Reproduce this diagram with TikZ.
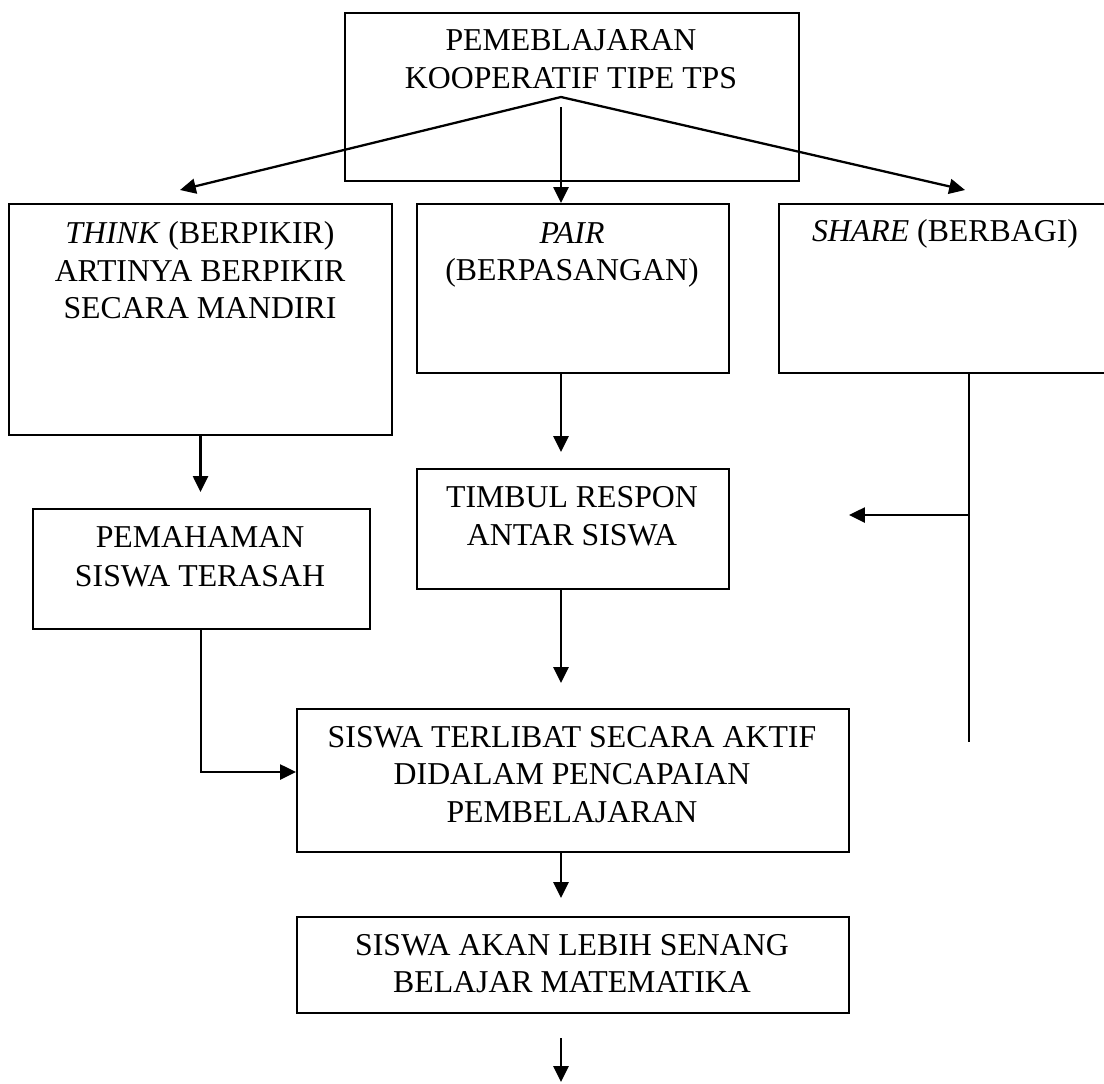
\documentclass[tikz,border=0pt]{standalone}
\usepackage{fontspec}
\setmainfont{Liberation Serif}
\usetikzlibrary{arrows.meta}
\begin{document}
\begin{tikzpicture}[x=0.02cm,y=-0.02cm,
  box/.style 2 args={draw,line width=1.2pt,inner sep=0pt,anchor=north west,minimum width=#1,minimum height=#2},
  txt/.style={anchor=base,inner sep=0pt,font=\fontsize{18.1}{21}\selectfont},
  arr/.style={line width=1.3pt,-{Triangle[length=9pt,width=8.5pt]}},
  ln/.style={line width=1.3pt}]
\useasboundingbox (0,0) rectangle (1104,1083);

% boxes
\node[box={9.08cm}{3.36cm}] (top) at (344,12) {};
\node[box={7.66cm}{4.62cm}] (think) at (8,203) {};
\node[box={6.24cm}{3.38cm}] (pair) at (416,203) {};
\node[box={6.68cm}{3.38cm}] (share) at (778,203) {};
\node[box={6.74cm}{2.40cm}] (paham) at (32,508) {};
\node[box={6.24cm}{2.40cm}] (respon) at (416,468) {};
\node[box={11.04cm}{2.86cm}] (aktif) at (296,708) {};
\node[box={11.04cm}{1.92cm}] (senang) at (296,916) {};

% texts
\node[txt] (top1) at (571,50) {PEMEBLAJARAN};
\node[txt] (top2) at (571,88) {KOOPERATIF TIPE TPS};
\node[txt] (think1) at (200,243) {\textit{THINK} (BERPIKIR)};
\node[txt] (think2) at (200,281) {ARTINYA BERPIKIR};
\node[txt] (think3) at (200,318) {SECARA MANDIRI};
\node[txt] (pair1) at (572,243) {\textit{PAIR}};
\node[txt] (pair2) at (572,280) {(BERPASANGAN)};
\node[txt] (share1) at (945,241) {\textit{SHARE} (BERBAGI)};
\node[txt] (paham1) at (200,547) {PEMAHAMAN};
\node[txt] (paham2) at (200,586) {SISWA TERASAH};
\node[txt] (respon1) at (572,507) {TIMBUL RESPON};
\node[txt] (respon2) at (572,545) {ANTAR SISWA};
\node[txt] (aktif1) at (572,747) {SISWA TERLIBAT SECARA AKTIF};
\node[txt] (aktif2) at (572,784) {DIDALAM PENCAPAIAN};
\node[txt] (aktif3) at (572,822) {PEMBELAJARAN};
\node[txt] (senang1) at (572,955) {SISWA AKAN LEBIH SENANG};
\node[txt] (senang2) at (572,992) {BELAJAR MATEMATIKA};

% helper coordinates
\coordinate (ax) at (561,0);
\coordinate (bx) at (201,0);
\coordinate (sx) at (969,0);
\coordinate (apex) at (561,97);
\coordinate (tipL) at (180,190);
\coordinate (tipR) at (965,190);
\coordinate (cstart) at (561,107);
\coordinate (tipP) at (200,492);
\coordinate (tipT) at (561,452);
\coordinate (tipA) at (561,683);
\coordinate (corner) at (201,772);
\coordinate (send) at (969,742);
\coordinate (sj) at (969,515);
\coordinate (tipS) at (849,515);
\coordinate (tipM) at (561,898);
\coordinate (bstart) at (561,1038);
\coordinate (tipB) at (561,1082);

% connectors
\draw[arr] (apex) -- (tipL);
\draw[arr] (apex) -- (tipR);
\draw[arr] (cstart) -- (pair.north -| ax);
\draw[arr] (think.south) -- (think.south |- tipP);
\draw[arr] (pair.south -| ax) -- (tipT);
\draw[arr] (respon.south -| ax) -- (tipA);
\draw[arr] (paham.south -| bx) -- (corner) -- (aktif.west |- corner);
\draw[ln] (share.south -| sx) -- (send);
\draw[arr] (sj) -- (tipS);
\draw[arr] (aktif.south -| ax) -- (tipM);
\draw[arr] (bstart) -- (tipB);
\end{tikzpicture}
\end{document}
